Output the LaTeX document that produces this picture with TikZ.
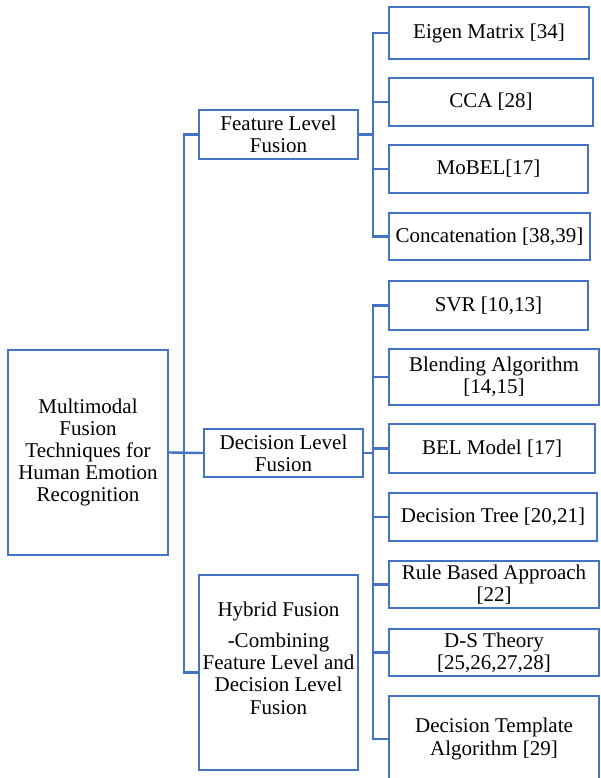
\documentclass[tikz,border=0pt]{standalone}
\usepackage{fontspec}
\setmainfont{Liberation Serif}
\definecolor{fc}{HTML}{4472C4}
\newcommand{\fsz}{\fontsize{21}{22.2}\selectfont}
\begin{document}
\begin{tikzpicture}[x=1pt,y=-1pt,
  box/.style={draw=fc, line width=2.4pt, inner sep=0pt, align=center, font=\fsz},
  conn/.style={draw=fc, line width=2.4pt}]
\clip (0,0) rectangle (600,778);
\fill[white] (0,0) rectangle (600,778);
% root
\node[box, minimum width=160, minimum height=205] (main) at (88,452.5)
  {Multimodal\\Fusion\\Techniques for\\Human Emotion\\Recognition};
% level 1
\node[box, minimum width=159, minimum height=49] (feat) at (278.5,134.5) {Feature Level\\Fusion};
\node[box, minimum width=159, minimum height=48] (dec) at (283.5,453) {Decision Level\\Fusion};
\node[box, minimum width=159, minimum height=195] (hyb) at (278.5,672.5) {};
\node[align=center, font=\fsz, inner sep=0pt] (hybt) at (278.5,658)
  {Hybrid Fusion\\[9pt]-Combining\\Feature Level and\\Decision Level\\Fusion};
% feature leaves
\node[box, minimum width=200, minimum height=52] (eig) at (489,33) {Eigen Matrix [34]};
\node[box, minimum width=204, minimum height=48] (cca) at (491,102) {CCA [28]};
\node[box, minimum width=199, minimum height=48] (mob) at (488.5,169) {MoBEL[17]};
\node[box, minimum width=201, minimum height=47] (con) at (489.5,236.5) {Concatenation [38,39]};
% decision leaves
\node[box, minimum width=199, minimum height=49] (svr) at (488.5,305.5) {SVR [10,13]};
\node[box, minimum width=210, minimum height=56] (ble) at (494,377) {Blending Algorithm\\{}[14,15]};
\node[box, minimum width=206, minimum height=49] (bel) at (492,448.5) {BEL Model [17]};
\node[box, minimum width=208, minimum height=48] (dtr) at (493,517) {Decision Tree [20,21]};
\node[box, minimum width=210, minimum height=47] (rul) at (494,584.5) {Rule Based Approach\\{}[22]};
\node[box, minimum width=210, minimum height=47] (dst) at (494,652.5) {D-S Theory\\{}[25,26,27,28]};
\node[box, minimum width=210, minimum height=86] (dtp) at (494,739) {Decision Template\\Algorithm [29]};
% junctions
\coordinate (mj) at (184,452.5);
\coordinate (fj) at (373,134.5);
\coordinate (dj) at (373,453);
% connectors root
\draw[conn] (main.east) -- (dec.west);
\draw[conn] (mj) |- (feat.west);
\draw[conn] (mj) |- (hyb.west);
% feature connectors
\draw[conn] (feat.east) -- (fj);
\foreach \n in {eig,cca,mob,con} \draw[conn] (fj) |- (\n.west);
% decision connectors
\draw[conn] (dec.east) -- (dj);
\foreach \n in {svr,ble,bel,dtr,rul,dst,dtp} \draw[conn] (dj) |- (\n.west);
\end{tikzpicture}
\end{document}
